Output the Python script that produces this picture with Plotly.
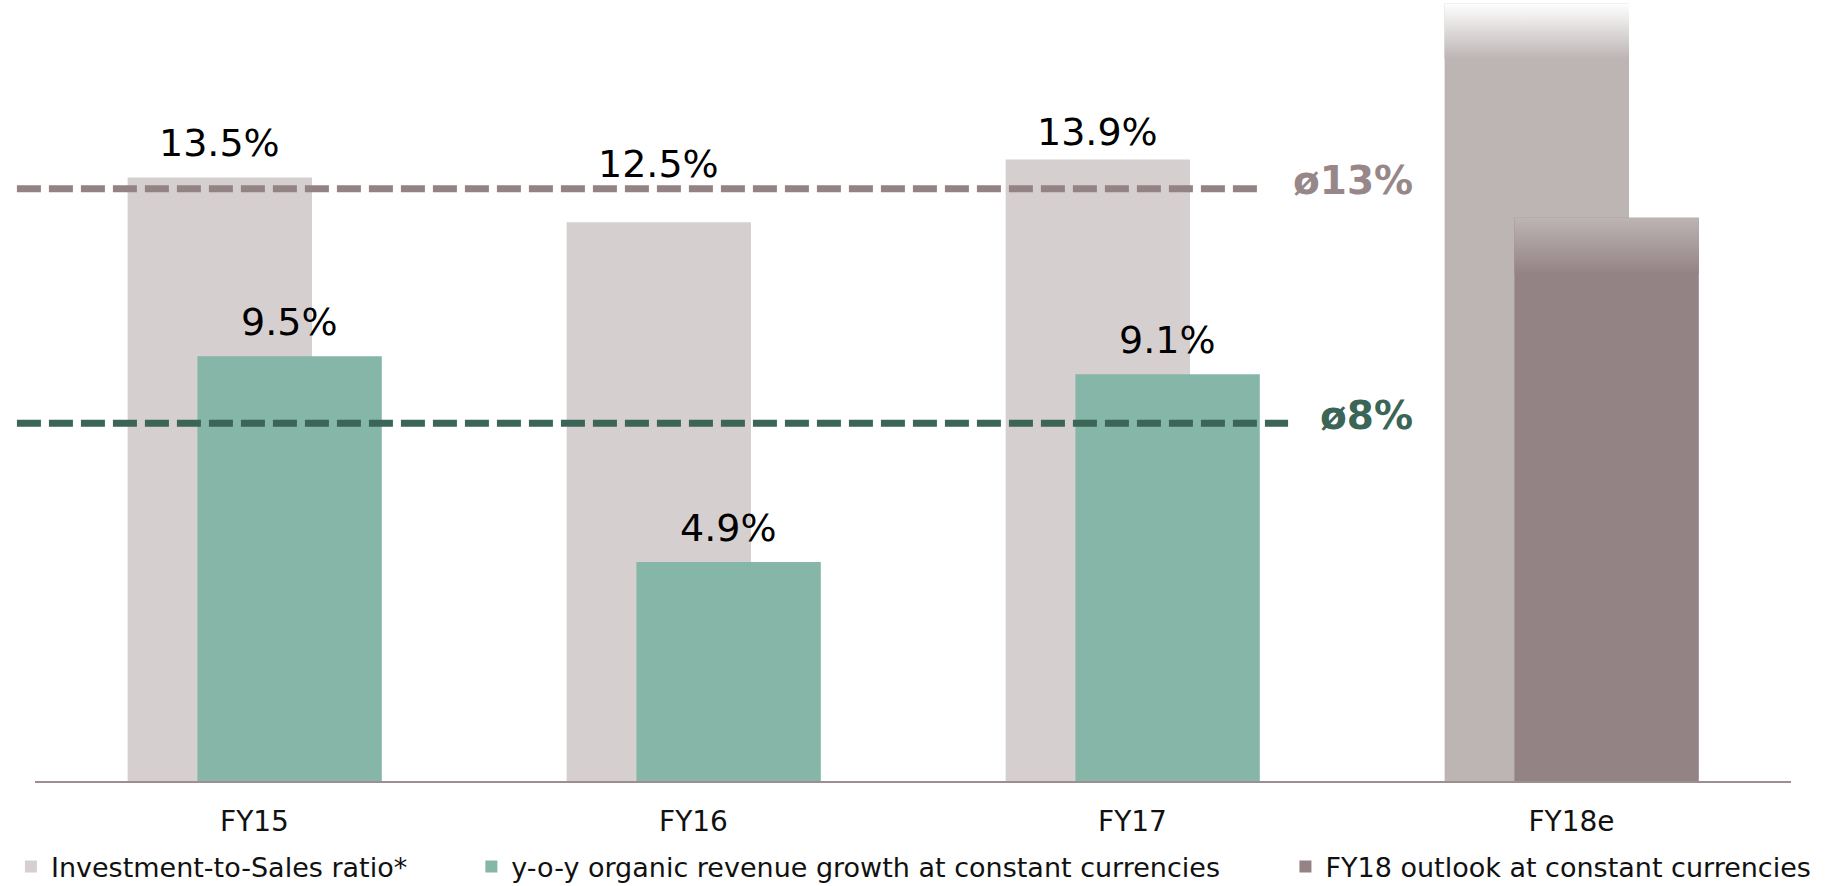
import plotly.graph_objects as go

# ---------------- data ----------------
categories = ["FY15", "FY16", "FY17", "FY18e"]
investment_ratio = [13.5, 12.5, 13.9, 17.4]
investment_labels = ["13.5%", "12.5%", "13.9%", ""]
organic_growth = [9.5, 4.9, 9.1]
growth_labels = ["9.5%", "4.9%", "9.1%"]
outlook_fy18 = [12.6]
avg_values = [13.25, 8.0]
avg_labels = ["ø13%", "ø8%"]
legend_names = [
    "Investment-to-Sales ratio*",
    "y-o-y organic revenue growth at constant currencies",
    "FY18 outlook at constant currencies",
]

# ---------------- styling ----------------
FONT = "DejaVu Sans"
GREY = "#d5cfcf"
GREY_FY18 = "#bdb4b4"
GREEN = "#85b6a7"
DARK = "#948385"
AVG_COLORS = ["#978789", "#3b6557"]
AVG_LINE_COLORS = ["#948385", "#3b6557"]
W = 0.42
OFF_INV = -0.289
OFF_GRO = -0.130
FADE = 1.25
LABEL_SHIFT = 10
INV_EXTRA_SHIFT = [0, 24, -6, 0]   # label nudges (px) as in the original layout
LEGEND_X = [-0.0137, 0.2485, 0.7121]

xpos = list(range(len(categories)))
x_growth = xpos[:len(organic_growth)]
x_outlook = [xpos[-1]]

fig = go.Figure()

inv_colors = [GREY] * (len(categories) - 1) + [GREY_FY18]
fig.add_trace(go.Bar(
    x=xpos, y=investment_ratio, offset=OFF_INV, width=W,
    marker=dict(color=inv_colors, line=dict(width=0)),
    name=legend_names[0], legend="legend", hoverinfo="skip",
))
fig.add_trace(go.Bar(
    x=x_growth, y=organic_growth, offset=OFF_GRO, width=W,
    marker=dict(color=GREEN, line=dict(width=0)),
    name=legend_names[1], legend="legend2", hoverinfo="skip",
))
fig.add_trace(go.Bar(
    x=x_outlook, y=outlook_fy18, offset=OFF_GRO, width=W,
    marker=dict(color=DARK, line=dict(width=0)),
    name=legend_names[2], legend="legend3", hoverinfo="skip",
))


# gradient fades on the FY18e bars
def fade(xc, off, top, c_bottom, c_top):
    x0 = xc + off
    x1 = x0 + W
    y0 = top - FADE
    fig.add_trace(go.Scatter(
        x=[x0, x1, x1, x0, x0], y=[y0, y0, top, top, y0],
        mode="lines", line=dict(width=0), fill="toself",
        fillgradient=dict(type="vertical", colorscale=[[0, c_bottom], [1, c_top]],
                          start=y0, stop=top),
        showlegend=False, hoverinfo="skip",
    ))


fade(xpos[-1], OFF_INV, investment_ratio[-1], GREY_FY18, "#ffffff")
fade(x_outlook[0], OFF_GRO, outlook_fy18[0], DARK, GREY_FY18)

annotations = []
for xi, v, t, ex in zip(xpos, investment_ratio, investment_labels, INV_EXTRA_SHIFT):
    if t:
        annotations.append(dict(x=xi + OFF_INV + W / 2, y=v, text=t, showarrow=False,
                                xref="x", yref="y", yanchor="bottom", yshift=LABEL_SHIFT + ex,
                                font=dict(family=FONT, size=38, color="#000000")))
for xi, v, t in zip(x_growth, organic_growth, growth_labels):
    annotations.append(dict(x=xi + OFF_GRO + W / 2, y=v, text=t, showarrow=False,
                            xref="x", yref="y", yanchor="bottom", yshift=LABEL_SHIFT,
                            font=dict(family=FONT, size=38, color="#000000")))

line_ends = [0.696, 0.7136]
shapes = []
for v, lab, c, lc, xe in zip(avg_values, avg_labels, AVG_COLORS, AVG_LINE_COLORS, line_ends):
    shapes.append(dict(type="line", xref="paper", yref="y", x0=-0.0103, x1=xe, y0=v, y1=v,
                       line=dict(color=lc, width=7, dash="24px,8px")))
    annotations.append(dict(x=0.7859, y=v, xref="paper", yref="y", text="<b>%s</b>" % lab,
                            showarrow=False, xanchor="right", yanchor="middle", yshift=8,
                            font=dict(family=FONT, size=39, color=c)))

legend_common = dict(orientation="h", yanchor="middle", y=-0.1101, xanchor="left",
                     bgcolor="rgba(0,0,0,0)", borderwidth=0,
                     font=dict(family=FONT, size=27, color="#111111"))

fig.update_layout(
    width=1829, height=886,
    margin=dict(l=35, r=38, t=0, b=105, pad=0, autoexpand=False),
    paper_bgcolor="white", plot_bgcolor="white",
    barmode="overlay",
    showlegend=True,
    legend=dict(x=LEGEND_X[0], **legend_common),
    legend2=dict(x=LEGEND_X[1], **legend_common),
    legend3=dict(x=LEGEND_X[2], **legend_common),
    xaxis=dict(range=[-0.5, 3.5], tickvals=xpos, ticktext=categories,
               showline=True, linecolor="#9d8f91", linewidth=2, ticks="",
               showgrid=False, zeroline=False, ticklabelstandoff=14,
               tickfont=dict(family=FONT, size=28, color="#111111")),
    yaxis=dict(range=[0, 17.47], visible=False, showgrid=False, zeroline=False),
    shapes=shapes,
    annotations=annotations,
    font=dict(family=FONT),
)

fig.write_html("out.html", config={"displayModeBar": False},
               post_script="document.body.style.margin='0';document.body.style.overflow='hidden';")
